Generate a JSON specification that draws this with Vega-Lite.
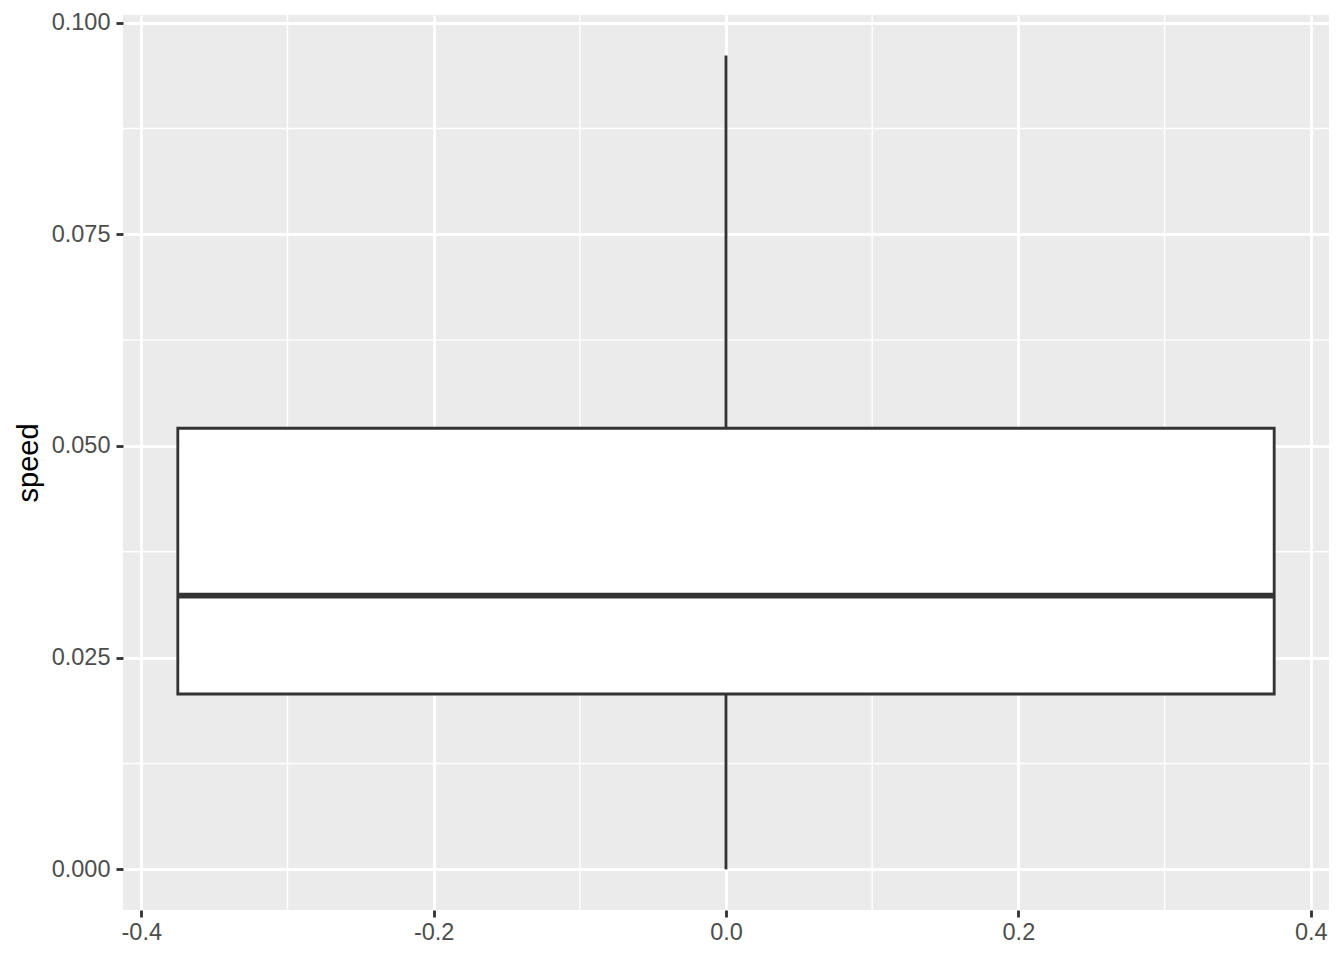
{
  "$schema": "https://vega.github.io/schema/vega-lite/v6.json",
  "autosize": {"type": "none"},
  "padding": {"left": 123, "top": 15, "right": 15, "bottom": 50},
  "width": 1206,
  "height": 895,
  "background": "white",
  "config": {
    "view": {"fill": "#EBEBEB", "stroke": null},
    "font": "Liberation Sans",
    "axis": {
      "domain": false,
      "grid": true,
      "gridColor": "white",
      "gridWidth": 2.84,
      "tickColor": "#333333",
      "tickWidth": 2.84,
      "tickSize": 7,
      "labelColor": "#4D4D4D",
      "labelFontSize": 23.5,
      "labelFont": "Liberation Sans",
      "titleFont": "Liberation Sans",
      "titleColor": "black",
      "titleFontSize": 29,
      "titleFontWeight": "normal"
    }
  },
  "datasets": {
    "box": [
      {"x": 0, "xmin": -0.375, "xmax": 0.375, "lower": 0.0, "q1": 0.02071, "median": 0.03232, "q3": 0.05209, "upper": 0.09612}
    ],
    "minorY": [{"v": 0.0125}, {"v": 0.0375}, {"v": 0.0625}, {"v": 0.0875}],
    "minorX": [{"v": -0.3}, {"v": -0.1}, {"v": 0.1}, {"v": 0.3}]
  },
  "layer": [
    {
      "data": {"name": "minorY"},
      "mark": {"type": "rule", "color": "white", "strokeWidth": 1.42},
      "encoding": {
        "y": {
          "field": "v", "type": "quantitative",
          "scale": {"domain": [-0.0048, 0.1009], "nice": false, "zero": false},
          "axis": {
            "values": [0, 0.025, 0.05, 0.075, 0.1],
            "format": ".3f",
            "title": "speed",
            "labelPadding": 6,
            "titlePadding": 8
          }
        }
      }
    },
    {
      "data": {"name": "minorX"},
      "mark": {"type": "rule", "color": "white", "strokeWidth": 1.42},
      "encoding": {
        "x": {
          "field": "v", "type": "quantitative",
          "scale": {"domain": [-0.4125, 0.4125], "nice": false, "zero": false},
          "axis": {
            "values": [-0.4, -0.2, 0, 0.2, 0.4],
            "labelExpr": "datum.value < 0 ? '-' + format(-datum.value, '.1f') : format(datum.value, '.1f')",
            "title": null,
            "labelPadding": 3
          }
        }
      }
    },
    {
      "data": {"name": "box"},
      "mark": {"type": "rule", "color": "#333333", "strokeWidth": 2.84},
      "encoding": {
        "x": {"field": "x", "type": "quantitative"},
        "y": {"field": "lower", "type": "quantitative"},
        "y2": {"field": "q1"}
      }
    },
    {
      "data": {"name": "box"},
      "mark": {"type": "rule", "color": "#333333", "strokeWidth": 2.84},
      "encoding": {
        "x": {"field": "x", "type": "quantitative"},
        "y": {"field": "q3", "type": "quantitative"},
        "y2": {"field": "upper"}
      }
    },
    {
      "data": {"name": "box"},
      "mark": {"type": "rect", "fill": "white", "stroke": "#333333", "strokeWidth": 2.84},
      "encoding": {
        "x": {"field": "xmin", "type": "quantitative"},
        "x2": {"field": "xmax"},
        "y": {"field": "q1", "type": "quantitative"},
        "y2": {"field": "q3"}
      }
    },
    {
      "data": {"name": "box"},
      "mark": {"type": "rule", "color": "#333333", "strokeWidth": 5.7},
      "encoding": {
        "x": {"field": "xmin", "type": "quantitative"},
        "x2": {"field": "xmax"},
        "y": {"field": "median", "type": "quantitative"}
      }
    }
  ]
}
